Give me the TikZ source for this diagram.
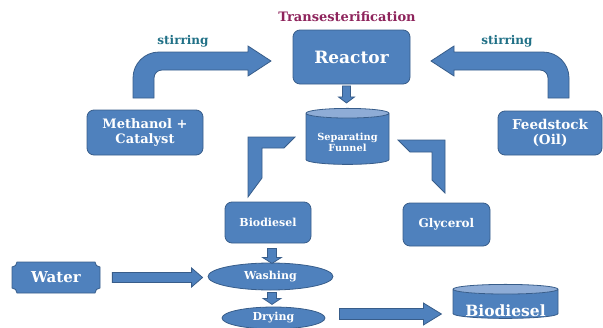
\documentclass[tikz,border=0pt]{standalone}
\usepackage{fontspec}
\setmainfont{DejaVu Serif}
\usetikzlibrary{shapes.geometric,calc}
\definecolor{boxblue}{RGB}{79,129,189}
\definecolor{boxline}{RGB}{56,93,138}
\definecolor{lidblue}{RGB}{142,172,214}
\definecolor{titlered}{RGB}{142,36,92}
\definecolor{stirteal}{RGB}{32,112,134}
\newcommand\fs[1]{\fontsize{#1}{1.1\dimexpr#1pt\relax}\selectfont}
% block arrow: from, to, half shaft, half head, head length
\newcommand\flowarrow[5]{%
  \path ($(#2)!#5!(#1)$) coordinate (fa-c);
  \filldraw[blockfill] ($(#1)!#3!90:(#2)$) -- ($(fa-c)!#3!90:(#2)$) -- ($(fa-c)!#4!90:(#2)$)
    -- (#2) -- ($(fa-c)!#4!-90:(#2)$) -- ($(fa-c)!#3!-90:(#2)$) -- ($(#1)!#3!-90:(#2)$) -- cycle;}
\begin{document}
\begin{tikzpicture}[x=1pt,y=-1pt,
  blockfill/.style={draw=boxline, fill=boxblue, line width=0.8pt},
  box/.style={blockfill, rounded corners=7pt, text=white, font=\bfseries, align=center, inner sep=0pt},
  tank/.style={cylinder, shape border rotate=90, draw=boxline, line width=0.8pt, cylinder uses custom fill,
    cylinder body fill=boxblue, cylinder end fill=lidblue, align=center, inner sep=0pt},
  tanktext/.style={text=white, align=center, inner sep=0pt},
  disc/.style={ellipse, blockfill, text=white, font=\bfseries, inner sep=0pt},
  stir/.style={text=stirteal, font=\bfseries\fs{12}}]
\useasboundingbox (0,0) rectangle (603,327);

\node[text=titlered, font=\bfseries\fs{13}] (title) at (347,17) {Transesterification};
\node[box, minimum width=117pt, minimum height=54pt, font=\bfseries\fs{17}] (reactor) at (351.5,57) {Reactor};
\node[box, minimum width=116pt, minimum height=45pt, font=\bfseries\fs{13}] (methanol) at (145,132.5) {Methanol +\\Catalyst};
\node[box, minimum width=104pt, minimum height=44pt, font=\bfseries\fs{13.5}] (feedstock) at (550,133) {Feedstock\\(Oil)};
\node[tank, minimum width=83pt, minimum height=56pt, aspect=0.16, font=\bfseries\fs{9.8}] (funnel) at (347.5,139)
  {\phantom{Separating}\\\phantom{Funnel}};
\node[tanktext, font=\bfseries\fs{9.8}] (funneltext) at ($(funnel.center)+(0,3)$) {Separating\\Funnel};
\node[box, minimum width=86pt, minimum height=41pt, font=\bfseries\fs{11}] (biodiesel) at (268,222.5) {Biodiesel};
\node[box, minimum width=87pt, minimum height=43pt, font=\bfseries\fs{12}] (glycerol) at (446.5,224.5) {Glycerol};
\node[disc, minimum width=125pt, minimum height=27pt, font=\bfseries\fs{11}] (washing) at (270.5,276.5) {Washing};
\node[disc, minimum width=103pt, minimum height=22pt, font=\bfseries\fs{11}] (drying) at (273.5,318) {Drying};
\node[tank, minimum width=105pt, minimum height=34pt, aspect=0.12, font=\bfseries\fs{15.5}] (final) at (505.5,304)
  {\phantom{Biodiesel}};
\node[tanktext, font=\bfseries\fs{15.5}] (finaltext) at ($(final.center)+(0,7)$) {Biodiesel};

% water plaque
\filldraw[blockfill] (17,262) -- (95,262) .. controls (95,264.8) and (97.2,267) .. (100,267) -- (100,288)
  .. controls (97.2,288) and (95,290.2) .. (95,293) -- (17,293) .. controls (17,290.2) and (14.8,288) .. (12,288)
  -- (12,267) .. controls (14.8,267) and (17,264.8) .. (17,262) -- cycle;
\node[text=white, font=\bfseries\fs{15}] (water) at (56,277.5) {Water};

% stirring arrows
\filldraw[blockfill] (133,98) [rounded corners=26pt] -- (133,52) [sharp corners] -- (248,52) -- (248,46) -- (271,61)
  -- (248,76) -- (248,70) [rounded corners=8pt] -- (154,70) [sharp corners] -- (154,98) -- cycle;
\begin{scope}[shift={(702,0)}, xscale=-1]
\filldraw[blockfill] (133,98) [rounded corners=26pt] -- (133,52) [sharp corners] -- (248,52) -- (248,46) -- (271,61)
  -- (248,76) -- (248,70) [rounded corners=8pt] -- (154,70) [sharp corners] -- (154,98) -- cycle;
\end{scope}
\node[stir] (stirl) at (183,41) {stirring};
\node[stir] (stirr) at (507,41) {stirring};

% funnel outlets
\filldraw[blockfill] (248,137) -- (295,137) -- (284,148) -- (262,148) -- (262,178) -- (248,197) -- cycle;
\filldraw[blockfill] (398,140) -- (445,140) -- (445,193) -- (432,180) -- (432,152) -- (410,152) -- cycle;

% straight arrows
\coordinate (r1) at ($(funnel.north)+(-1,-22)$);
\coordinate (r2) at ($(funnel.north)+(-1,-5)$);
\flowarrow{r1}{r2}{4pt}{8pt}{6pt}
\coordinate (b1) at ($(biodiesel.south)+(4,5)$);
\coordinate (b2) at ($(biodiesel.south)+(4,20)$);
\flowarrow{b1}{b2}{4.5pt}{9.5pt}{6pt}
\coordinate (w1) at ($(washing.south)+(1.5,2)$);
\coordinate (w2) at ($(washing.south)+(1.5,14)$);
\flowarrow{w1}{w2}{4.5pt}{9pt}{6pt}
\coordinate (h1) at ($(water.east)+(28,0)$);
\coordinate (h2) at ($(washing.west)+(-5,1)$);
\flowarrow{h1}{h2}{5pt}{9.5pt}{11pt}
\coordinate (d1) at ($(drying.east)+(14,-4)$);
\coordinate (d2) at ($(drying.east)+(116,-4)$);
\flowarrow{d1}{d2}{5.5pt}{11pt}{18pt}
\end{tikzpicture}
\end{document}
